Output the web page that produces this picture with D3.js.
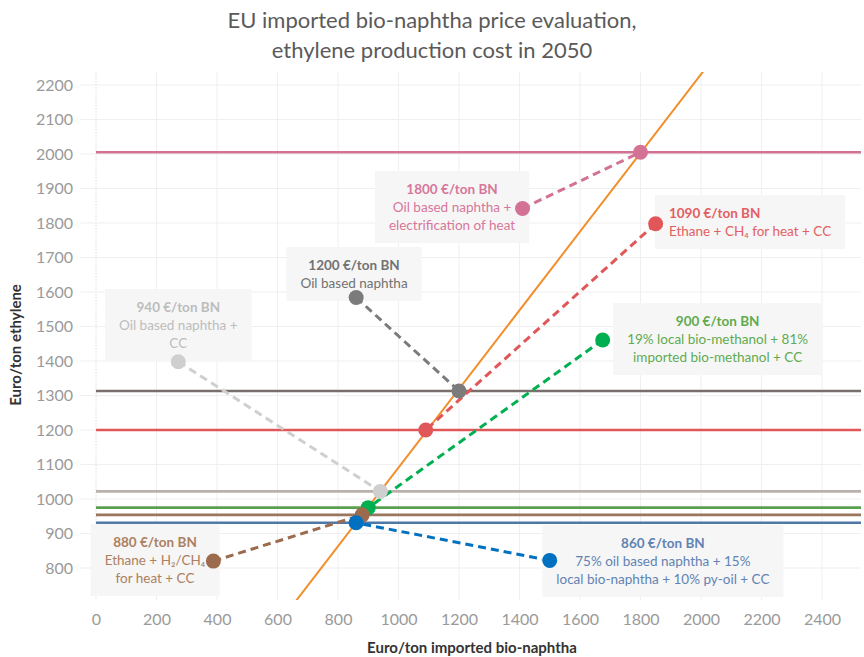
<!DOCTYPE html>
<html>
<head>
<meta charset="utf-8">
<script src="https://cdn.jsdelivr.net/npm/d3@7"></script>
<style>
  html, body { margin: 0; padding: 0; background: #fff; }
  svg { display: block; }
</style>
</head>
<body>
<svg id="chart" width="864" height="657"></svg>
<script>
// Scenario names (one per colour)
const scenarios = ["oilElec", "ethaneCH4", "oil", "oilCC", "methanol", "ethaneH2", "mix"];

// Ethylene production cost level for each scenario (€/ton ethylene)
const levelCost = [2005, 1200, 1313, 1022, 975, 954, 931];

// Break-even price of imported bio-naphtha (€/ton BN) and its ethylene cost
const breakEvenBN = [1800, 1090, 1200, 940, 900, 880, 860];
const breakEvenCost = [2005, 1200, 1313, 1022, 975, 954, 931];

// Reference scenario point each dashed link starts from
const refBN = [1410, 1850, 860, 272, 1675, 388, 1500];
const refCost = [1842, 1798, 1584, 1398, 1461, 820, 822];

// Ethylene cost from imported bio-naphtha (straight line, two end points)
const bnLineX = [600, 2100];
const bnLineY = [635, 2345];

// Colours
const levelColor = ["#d37295", "#e15759", "#79706e", "#bab0ac", "#59a14f", "#9c755f", "#4e79a7"];
const markColor  = ["#d37295", "#e15759", "#7b7b7b", "#cfcfcf", "#00b050", "#9c6b4e", "#0070c0"];
const textColor  = ["#d6779b", "#e35f61", "#727272", "#bdbdbd", "#5fab4f", "#ac8060", "#6283b2"];

// Annotation texts
const noteLines = [
  ["1800 €/ton BN", "Oil based naphtha +", "electrification of heat"],
  ["1090 €/ton BN", "Ethane + CH\u2084 for heat + CC"],
  ["1200 €/ton BN", "Oil based naphtha"],
  ["940 €/ton BN", "Oil based naphtha +", "CC"],
  ["900 €/ton BN", "19% local bio-methanol + 81%", "imported bio-methanol + CC"],
  ["880 €/ton BN", "Ethane + H\u2082/CH\u2084", "for heat + CC"],
  ["860 €/ton BN", "75% oil based naphtha + 15%", "local bio-naphtha + 10% py-oil + CC"]
];
// Annotation anchor in data units (text x, first baseline y) and alignment
const noteX = [1177, 1894, 853, 272, 2055, 195, 1874];
const noteY = [1884, 1814, 1664, 1542, 1501, 861, 858];
const noteAlign = ["middle", "start", "middle", "middle", "middle", "middle", "middle"];

const xTicks = d3.range(0, 2401, 200);
const yTicks = d3.range(800, 2201, 100);

const svg = d3.select("#chart");
const plot = { left: 80, right: 861, top: 72, bottom: 600 };

const x = d3.scaleLinear().domain([0, 2400]).range([96, 822]);
const y = d3.scaleLinear().domain([800, 2200]).range([568, 85]);

const FONT = "Lato, 'Open Sans', sans-serif";

// Title
[["EU imported bio-naphtha price evaluation,", 28], ["ethylene production cost in 2050", 58]].forEach(([t, yy]) => {
  svg.append("text")
    .attr("x", 432).attr("y", yy).attr("text-anchor", "middle")
    .attr("font-family", FONT).attr("font-size", 22).attr("fill", "#5a5a5a")
    .text(t);
});

svg.append("defs").append("clipPath").attr("id", "plotClip")
  .append("rect")
  .attr("x", plot.left).attr("y", plot.top)
  .attr("width", plot.right - plot.left).attr("height", plot.bottom - plot.top);

// Grid
const grid = svg.append("g");
grid.selectAll(".vg").data(xTicks).join("line")
  .attr("x1", d => x(d)).attr("x2", d => x(d))
  .attr("y1", plot.top).attr("y2", plot.bottom)
  .attr("stroke", d => d === 0 ? "#dcdcdc" : "#efefef")
  .attr("stroke-dasharray", d => d === 0 ? "1.5,1.5" : null)
  .attr("stroke-width", 1);
grid.selectAll(".hg").data(yTicks).join("line")
  .attr("x1", plot.left).attr("x2", plot.right)
  .attr("y1", d => y(d)).attr("y2", d => y(d))
  .attr("stroke", "#efefef").attr("stroke-width", 1);

// Axes (labels only)
const xAxis = svg.append("g").attr("transform", `translate(0,${plot.bottom})`)
  .call(d3.axisBottom(x).tickValues(xTicks).tickFormat(d3.format("d")).tickSize(0).tickPadding(14));
const yAxis = svg.append("g").attr("transform", `translate(${plot.left},0)`)
  .call(d3.axisLeft(y).tickValues(yTicks).tickFormat(d3.format("d")).tickSize(0).tickPadding(7));
[xAxis, yAxis].forEach(a => {
  a.select(".domain").remove();
  a.selectAll("text").attr("font-family", FONT).attr("font-size", 16).attr("fill", "#9a9a9a");
});

svg.append("text")
  .attr("transform", "translate(21,345) rotate(-90)")
  .attr("text-anchor", "middle")
  .attr("font-family", FONT).attr("font-size", 15).attr("font-weight", 700).attr("fill", "#333")
  .text("Euro/ton ethylene");
svg.append("text")
  .attr("x", 472).attr("y", 653).attr("text-anchor", "middle")
  .attr("font-family", FONT).attr("font-size", 15).attr("font-weight", 700).attr("fill", "#333")
  .text("Euro/ton imported bio-naphtha");

const g = svg.append("g").attr("clip-path", "url(#plotClip)");

// Annotation boxes and texts
const noteG = svg.append("g");
noteLines.forEach((lines, i) => {
  const grp = noteG.append("g");
  const tx = x(noteX[i]), ty = y(noteY[i]);
  grp.selectAll("text").data(lines).join("text")
    .attr("x", tx).attr("y", (d, j) => ty + j * 18)
    .attr("text-anchor", noteAlign[i])
    .attr("font-family", FONT).attr("font-size", 13.5)
    .attr("font-weight", (d, j) => j === 0 ? 700 : 400)
    .attr("fill", textColor[i])
    .text(d => d);
  const bb = grp.node().getBBox();
  grp.insert("rect", "text")
    .attr("x", bb.x - 14).attr("y", bb.y - 10)
    .attr("width", bb.width + 28).attr("height", bb.height + 20)
    .attr("fill", "#f6f6f6");
});

// Constant-cost level lines
g.selectAll(".level").data(levelCost).join("line")
  .attr("x1", x(0)).attr("x2", plot.right)
  .attr("y1", d => y(d)).attr("y2", d => y(d))
  .attr("stroke", (d, i) => levelColor[i]).attr("stroke-width", 2.6);

// Bio-naphtha cost line
g.append("line")
  .attr("x1", x(bnLineX[0])).attr("y1", y(bnLineY[0]))
  .attr("x2", x(bnLineX[1])).attr("y2", y(bnLineY[1]))
  .attr("stroke", "#f28e2b").attr("stroke-width", 2);

// Dashed links
g.selectAll(".link").data(scenarios).join("line")
  .attr("x1", (d, i) => x(refBN[i])).attr("y1", (d, i) => y(refCost[i]))
  .attr("x2", (d, i) => x(breakEvenBN[i])).attr("y2", (d, i) => y(breakEvenCost[i]))
  .attr("stroke", (d, i) => markColor[i]).attr("stroke-width", 3)
  .attr("stroke-dasharray", "8,5");

// Points
const dots = svg.append("g");
scenarios.forEach((s, i) => {
  dots.append("circle").attr("cx", x(refBN[i])).attr("cy", y(refCost[i]))
    .attr("r", 7.5).attr("fill", markColor[i]);
  dots.append("circle").attr("cx", x(breakEvenBN[i])).attr("cy", y(breakEvenCost[i]))
    .attr("r", 7.5).attr("fill", markColor[i]);
});
</script>
</body>
</html>
